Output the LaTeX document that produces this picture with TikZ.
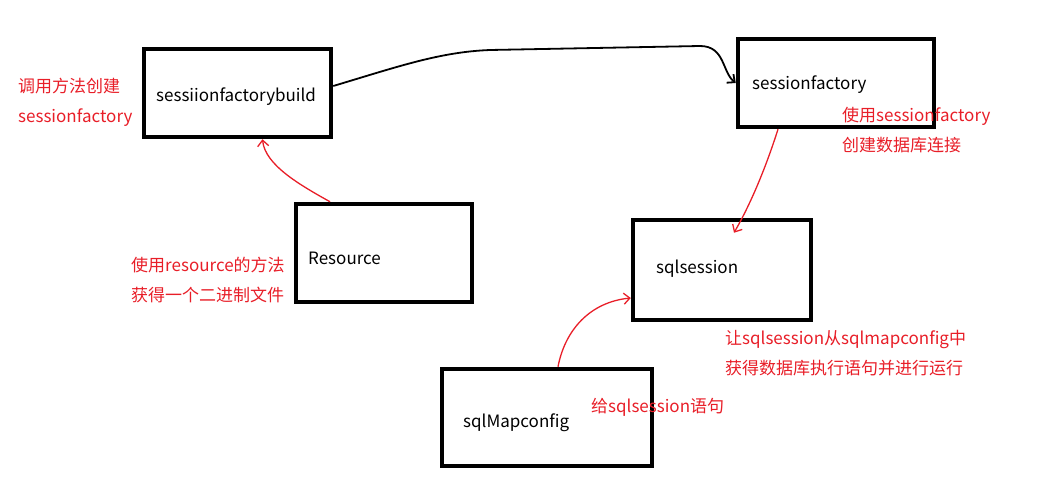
\documentclass[tikz,border=0pt]{standalone}
\usepackage{fontspec}
\setmainfont{Noto Sans CJK SC}
\usepackage{tikz}
\usetikzlibrary{arrows.meta}
\definecolor{penred}{RGB}{232,30,40}

\begin{document}
\begin{tikzpicture}[x=1pt,y=-1pt, >={Straight Barb[length=6pt,width=11pt]},
	box/.style={draw, line width=4.5pt, inner sep=0pt},
	lbl/.style={anchor=west, inner sep=0pt, font=\fontsize{17pt}{20pt}\selectfont},
	note/.style={anchor=west, inner sep=0pt, align=left, text=penred, font=\fontsize{17pt}{30pt}\selectfont}]
	%\draw[help lines] (0,0) grid[step=50] (1058,481);
	\useasboundingbox (0,0) rectangle (1058,481);
	\node[box, minimum width=187pt, minimum height=88pt] (build) at (237.5,93) {};
	\node[box, minimum width=196pt, minimum height=88pt] (factory) at (836,83) {};
	\node[box, minimum width=176pt, minimum height=98pt] (res) at (384,253) {};
	\node[box, minimum width=178pt, minimum height=100pt] (sqls) at (722,270) {};
	\node[box, minimum width=210pt, minimum height=97pt] (mapcfg) at (547,417.5) {};
	\node[lbl] (buildtxt) at (156,97) {sessiionfactorybuild};
	\node[lbl] (factorytxt) at (752,85) {sessionfactory};
	\node[lbl] (restxt) at (308,258) {Resource};
	\node[lbl] (sqlstxt) at (656,269) {sqlsession};
	\node[lbl] (mapcfgtxt) at (463,423) {sqlMapconfig};
	\node[note] (buildnote) at (18,102) {调用方法创建\\sessionfactory};
	\node[note] (factorynote) at (842,130.5) {使用sessionfactory\\创建数据库连接};
	\node[note] (resnote) at (131,280.5) {使用resource的方法\\获得一个二进制文件};
	\node[note] (sqlsnote) at (725,353) {让sqlsession从sqlmapconfig中\\获得数据库执行语句并进行运行};
	\node[note] (mapcfgnote) at (591,407) {给sqlsession语句};
	\draw[->, line width=1.8pt] ([yshift=7pt]build.east) .. controls (400,66) and (440,52) .. (490,50) -- (700,46) .. controls (725,46) and (722,72) .. (factory.west);
	\draw[->, penred, line width=1.3pt] ([xshift=-54pt]res.north) .. controls (300,185) and (265,165) .. ([xshift=25pt]build.south);
	\draw[->, penred, line width=1.3pt] ([xshift=-58pt]factory.south) .. controls (765,170) and (750,205) .. ([xshift=12pt,yshift=-15pt]sqls.north);
	\draw[->, penred, line width=1.3pt] ([xshift=11pt]mapcfg.north) .. controls (565,330) and (590,302) .. ([yshift=-28pt]sqls.west);
\end{tikzpicture}
\end{document}
